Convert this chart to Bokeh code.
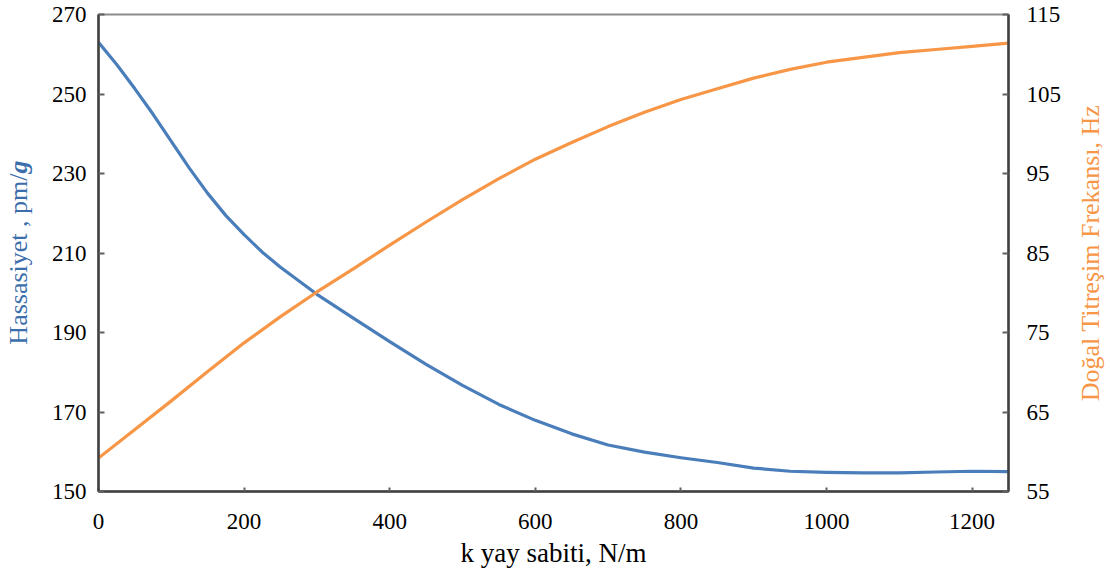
import math
from bokeh.plotting import figure
from bokeh.layouts import row
from bokeh.models import Range1d, LinearAxis, FixedTicker
from bokeh.core.properties import value
from bokeh.embed import file_html
from bokeh.resources import INLINE

# data
k_sens = [0, 25, 50, 75, 100, 125, 150, 175, 200, 225, 250, 275, 300, 350, 400, 450,
          500, 550, 600, 650, 700, 750, 800, 850, 900, 950, 1000, 1050, 1100, 1150,
          1200, 1250]
sensitivity = [263.0, 257.4, 251.3, 244.9, 238.1, 231.3, 225.0, 219.4, 214.6, 210.2,
               206.4, 203.0, 199.6, 193.6, 187.7, 182.0, 176.7, 171.9, 167.9, 164.5,
               161.7, 159.9, 158.5, 157.3, 155.9, 155.1, 154.8, 154.7, 154.7, 154.9,
               155.1, 155.0]
k_freq = [0, 50, 100, 150, 200, 250, 300, 350, 400, 450, 500, 550, 600, 650,
          700, 750, 800, 850, 900, 950, 1000, 1050, 1100, 1150, 1200, 1250]
frequency = [59.2, 62.8, 66.4, 70.1, 73.7, 77.0, 80.1, 83.0, 86.0, 88.9,
             91.7, 94.35, 96.8, 98.9, 100.9, 102.7, 104.3, 105.65, 107.0, 108.1,
             109.0, 109.6, 110.2, 110.6, 111.0, 111.4]
x_ticks = [0, 200, 400, 600, 800, 1000, 1200]
left_ticks = [150, 170, 190, 210, 230, 250, 270]
right_ticks = [55, 65, 75, 85, 95, 105, 115]
x_title = "k yay sabiti, N/m"
left_title_main = "Hassasiyet , pm/"
left_title_unit = "g"
right_title = "Doğal Titreşim Frekansı, Hz"

FONT = "Liberation Serif"
BLUE = "#4A7EBB"
ORANGE = "#F79646"
LABEL_BLUE = "#3C6EAB"
AXIS = "#404040"
TOP, BOTTOM, FH = 14, 72, 477

y_left = Range1d(150, 270)
y_right = Range1d(55, 115)

p = figure(frame_width=910, frame_height=FH, output_backend="svg", toolbar_location=None,
           x_range=Range1d(0, 1250), y_range=y_left,
           min_border_left=64, min_border_right=60, min_border_top=TOP,
           min_border_bottom=BOTTOM)
p.extra_y_ranges = {"freq": y_right}
p.grid.visible = False
p.outline_line_color = "#8c8c8c"
p.outline_line_width = 2
p.background_fill_color = "white"
p.border_fill_color = "white"

p.line(k_sens, sensitivity, line_color=BLUE, line_width=3.2, line_join="round")
p.line(k_freq, frequency, line_color=ORANGE, line_width=3.2, line_join="round",
       y_range_name="freq")

right = LinearAxis(y_range_name="freq")
p.add_layout(right, "right")

p.xaxis.ticker = FixedTicker(ticks=x_ticks)
p.yaxis[0].ticker = FixedTicker(ticks=left_ticks)
right.ticker = FixedTicker(ticks=right_ticks)
p.xaxis.axis_label = x_title

for ax in [p.xaxis[0], p.yaxis[0], right]:
    ax.axis_line_color = AXIS
    ax.axis_line_width = 2.5
    ax.major_tick_line_color = "#606060"
    ax.major_tick_line_width = 2
    ax.major_tick_out = 0
    ax.major_tick_in = 6
    ax.minor_tick_line_color = None
    ax.major_label_text_font = FONT
    ax.major_label_text_font_size = "23px"
    ax.major_label_text_color = "black"
    ax.axis_label_text_font = FONT
    ax.axis_label_text_font_size = "27px"
    ax.axis_label_text_font_style = "normal"
    ax.axis_label_text_color = "black"

p.xaxis.major_tick_in = 4
p.xaxis.major_label_standoff = 22
p.xaxis.axis_label_standoff = 6
p.yaxis[0].major_label_standoff = 12
right.major_label_standoff = 18


def side_panel(width, y_range):
    f = figure(width=width, frame_height=FH, output_backend="svg", toolbar_location=None,
               x_range=Range1d(0, 1), y_range=y_range,
               min_border_left=0, min_border_right=0, min_border_top=TOP,
               min_border_bottom=BOTTOM)
    f.axis.visible = False
    f.grid.visible = False
    f.outline_line_color = None
    f.background_fill_color = None
    f.border_fill_color = "white"
    return f


# left title (bold-italic "g" as in the original)
p0 = side_panel(34, y_left)
ymid_l = 230.0
p0.text(x=[0.53], y=[ymid_l], text=[left_title_main], angle=math.pi / 2,
        text_align="right", text_baseline="middle", text_font=value(FONT),
        text_font_size="26px", text_color=LABEL_BLUE)
p0.text(x=[0.53], y=[ymid_l], text=[left_title_unit], angle=math.pi / 2,
        text_align="left", text_baseline="middle", text_font=value(FONT),
        text_font_size="26px", text_font_style="bold italic", text_color=LABEL_BLUE)

# right title
p2 = side_panel(40, y_right)
p2.text(x=[0.55], y=[(y_right.start + y_right.end) / 2], text=[right_title],
        angle=math.pi / 2, text_align="center", text_baseline="middle",
        text_font=value(FONT), text_font_size="26px", text_color=ORANGE)

layout = row(p0, p, p2, spacing=0)
open("out.html", "w").write(file_html(layout, INLINE))
